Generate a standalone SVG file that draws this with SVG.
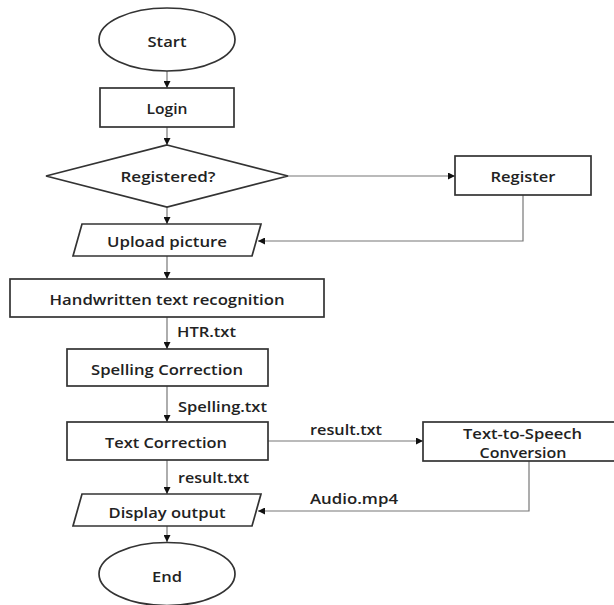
<svg xmlns="http://www.w3.org/2000/svg" width="614" height="605" viewBox="0 0 614 605">
<defs>
<marker id="ah" viewBox="0 0 8 8" refX="8" refY="4" markerWidth="7" markerHeight="7" markerUnits="userSpaceOnUse" orient="auto">
<path d="M0,0 L8,4 L0,8 Z" fill="#111"/>
</marker>
</defs>
<style>
.shape{fill:#fff;stroke:#333;stroke-width:1.7}
.conn{fill:none;stroke:#777;stroke-width:1.2}
.t{font-family:"Open Sans","Noto Sans",sans-serif;font-size:14.5px;font-weight:600;fill:#222;text-anchor:middle;dominant-baseline:central}
.lbl{font-family:"Open Sans","Noto Sans",sans-serif;font-size:14.5px;font-weight:600;fill:#222;text-anchor:start;dominant-baseline:central}
</style>
<rect width="614" height="605" fill="#fff"/>
<g id="connectors">
<line class="conn" x1="167" y1="71" x2="167" y2="88" marker-end="url(#ah)"/>
<line class="conn" x1="167" y1="127" x2="167" y2="145" marker-end="url(#ah)"/>
<line class="conn" x1="288" y1="176" x2="455" y2="176" marker-end="url(#ah)"/>
<line class="conn" x1="167" y1="207" x2="167" y2="224" marker-end="url(#ah)"/>
<polyline class="conn" points="523,195 523,241 258,241" marker-end="url(#ah)"/>
<line class="conn" x1="167" y1="256" x2="167" y2="279" marker-end="url(#ah)"/>
<line class="conn" x1="167" y1="317" x2="167" y2="349" marker-end="url(#ah)"/>
<line class="conn" x1="167" y1="386" x2="167" y2="422" marker-end="url(#ah)"/>
<line class="conn" x1="268" y1="441" x2="423" y2="441" marker-end="url(#ah)"/>
<line class="conn" x1="167" y1="460" x2="167" y2="494" marker-end="url(#ah)"/>
<polyline class="conn" points="529,461 529,511 258,511" marker-end="url(#ah)"/>
<line class="conn" x1="167" y1="526" x2="167" y2="542" marker-end="url(#ah)"/>
<text class="lbl" x="177" y="331" textLength="59" lengthAdjust="spacingAndGlyphs">HTR.txt</text>
<text class="lbl" x="178" y="406" textLength="89" lengthAdjust="spacingAndGlyphs">Spelling.txt</text>
<text class="lbl" x="310" y="429" textLength="72" lengthAdjust="spacingAndGlyphs">result.txt</text>
<text class="lbl" x="178" y="477" textLength="71" lengthAdjust="spacingAndGlyphs">result.txt</text>
<text class="lbl" x="310" y="498" textLength="88" lengthAdjust="spacingAndGlyphs">Audio.mp4</text>
</g>
<g id="start">
<ellipse class="shape" cx="167" cy="39.5" rx="68" ry="31.5"/>
<text class="t" x="167" y="41" textLength="39" lengthAdjust="spacingAndGlyphs">Start</text>
</g>
<g id="login">
<rect class="shape" x="100" y="88" width="134" height="39"/>
<text class="t" x="167" y="108" textLength="41" lengthAdjust="spacingAndGlyphs">Login</text>
</g>
<g id="registered">
<polygon class="shape" points="167,145 288,176 167,207 46,176"/>
<text class="t" x="168" y="176" textLength="95" lengthAdjust="spacingAndGlyphs">Registered?</text>
</g>
<g id="register">
<rect class="shape" x="455" y="156" width="136" height="39"/>
<text class="t" x="523" y="176" textLength="65" lengthAdjust="spacingAndGlyphs">Register</text>
</g>
<g id="upload">
<polygon class="shape" points="82,224 261,224 252,256 73,256"/>
<text class="t" x="167" y="241" textLength="120" lengthAdjust="spacingAndGlyphs">Upload picture</text>
</g>
<g id="htr">
<rect class="shape" x="10" y="279" width="314" height="38"/>
<text class="t" x="167" y="299" textLength="235" lengthAdjust="spacingAndGlyphs">Handwritten text recognition</text>
</g>
<g id="spelling">
<rect class="shape" x="67" y="349" width="201" height="37"/>
<text class="t" x="167" y="369" textLength="152" lengthAdjust="spacingAndGlyphs">Spelling Correction</text>
</g>
<g id="textcorrection">
<rect class="shape" x="67" y="422" width="201" height="38"/>
<text class="t" x="166" y="442" textLength="122" lengthAdjust="spacingAndGlyphs">Text Correction</text>
</g>
<g id="tts">
<rect class="shape" x="423" y="422" width="200" height="39"/>
<text class="t" x="522.5" y="433" textLength="119" lengthAdjust="spacingAndGlyphs">Text-to-Speech</text>
<text class="t" x="523" y="452" textLength="87" lengthAdjust="spacingAndGlyphs">Conversion</text>
</g>
<g id="display">
<polygon class="shape" points="82,494 261,494 252,526 73,526"/>
<text class="t" x="167" y="512" textLength="117" lengthAdjust="spacingAndGlyphs">Display output</text>
</g>
<g id="end">
<ellipse class="shape" cx="167" cy="574" rx="68" ry="31.5"/>
<text class="t" x="167" y="576" textLength="30" lengthAdjust="spacingAndGlyphs">End</text>
</g>
</svg>
